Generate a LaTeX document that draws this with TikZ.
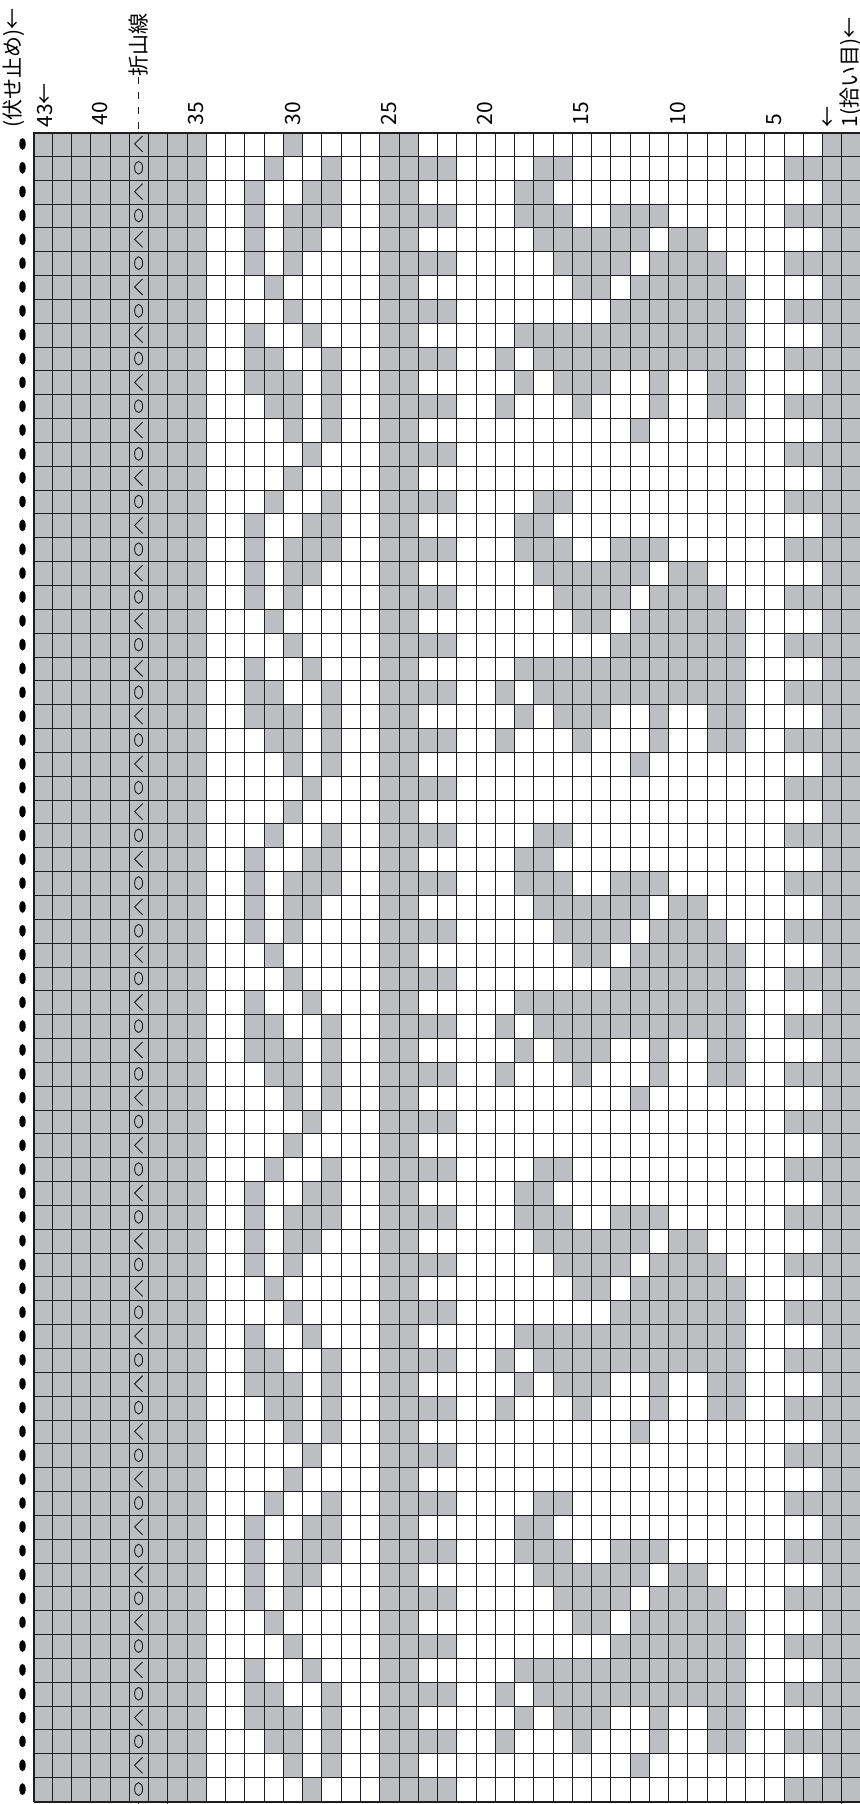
\documentclass[tikz,border=0pt]{standalone}
\usepackage{fontspec}
\setmainfont{Noto Sans CJK JP}
\usetikzlibrary{positioning}
\definecolor{chartgray}{RGB}{189,190,194}
\definecolor{chartline}{RGB}{30,30,30}

\begin{document}
\begin{tikzpicture}[x=0.5pt, y=-0.5pt,
  cell/.style={fill=chartgray},
  gridline/.style={draw=chartline, line width=0.75pt},
  frame/.style={draw=chartline, line width=1pt},
  lbl/.style={font=\fontsize{10.5}{12}\selectfont, rotate=90, anchor=west, inner sep=0pt},
  sym/.style={draw=chartline, line width=0.45pt},
  bo/.style={fill=black},
]
  \def\cw{19.253}\def\ch{23.843}\def\gx{32.7}\def\gy{132}
  \def\sx{138.6}
  \def\gtop{132.5}\def\gbot{1801.5}
  \useasboundingbox (0,0) rectangle (859,1804);

  % columns that stay gray
  \fill[cell] (\gx,\gtop) rectangle ({\gx+9*\cw},\gbot);
  \fill[cell] ({\gx+18*\cw},\gtop) rectangle ({\gx+20*\cw},\gbot);
  \fill[cell] ({\gx+41*\cw},\gtop) rectangle ({\gx+43*\cw},\gbot);

  % 14-row repeat, 5 times
  \foreach \k in {0,...,4}{
    \foreach \p/\cols in {1/{30},
                          2/{31,28,23,22,17,16,4,3},
                          3/{32,29,28,18,17},
                          4/{32,30,29,28,23,22,18,17,16,13,12,11,4,3},
                          5/{32,30,29,17,16,15,14,13,12,10,9},
                          6/{32,30,23,22,16,15,14,13,11,10,9,8,4,3},
                          7/{31,15,14,12,11,10,9,8,7},
                          8/{30,23,22,13,12,11,10,9,8,7,4,3},
                          9/{32,29,18,17,16,15,14,13,12,11,10,9,8,7},
                          10/{32,31,28,23,22,19,17,16,15,14,13,12,11,10,9,8,7,4,3},
                          11/{32,31,30,28,18,16,15,14,11,8,7},
                          12/{31,30,28,23,22,19,15,11,8,7,4,3},
                          13/{30,28,12},
                          14/{29,23,22,4,3}}{
      \pgfmathsetmacro\ya{round(\gy+(14*\k+\p-1)*\ch)+0.5}
      \pgfmathsetmacro\yb{round(\gy+(14*\k+\p)*\ch)+0.5}
      \foreach \c in \cols{
        \pgfmathsetmacro\xa{round(\gx+(43-\c)*\cw)+0.5}
        \pgfmathsetmacro\xb{round(\gx+(44-\c)*\cw)+0.5}
        \fill[cell] (\xa,\ya) rectangle (\xb,\yb);
      }
    }
  }

  % grid
  \foreach \i in {0,...,43}{
    \pgfmathsetmacro\xx{round(\gx+\i*\cw)+0.5}
    \draw[gridline] (\xx,\gtop) -- (\xx,\gbot);
  }
  \foreach \j in {0,...,70}{
    \pgfmathsetmacro\yy{round(\gy+\j*\ch)+0.5}
    \draw[gridline] (\gx,\yy) -- ({\gx+43*\cw},\yy);
  }
  \draw[frame] (33.5,\gtop) -- (33.5,\gbot);
  \draw[frame] (33.5,\gtop) -- (860,\gtop);
  \draw[frame] (33.5,\gbot) -- (860,\gbot);

  % bind-off dots and fold-line symbols
  \foreach \r in {1,...,70}{
    \pgfmathsetmacro\yc{\gy+(\r-0.5)*\ch}
    \fill[bo] (22.5,\yc) ellipse [x radius=1.6pt, y radius=3pt];
    \ifodd\r
      \draw[sym] ({\sx+4},{\yc-8}) -- ({\sx-4},\yc) -- ({\sx+4},{\yc+8});
    \else
      \draw[sym] (\sx,\yc) ellipse [x radius=2pt, y radius=3.2pt];
    \fi
  }

  % header
  \node[lbl] (bindoff) at (14,128) {(伏せ止め)←};
  \node[lbl] (n43) at (45,128) {43←};
  \foreach \n in {40,35,...,5}
    \node[lbl] (n\n) at ({\gx+(43-\n+0.5)*\cw},126) {\n};
  \node[lbl] (n1) at ({\gx+42.5*\cw},128) {1(拾い目)←};
  \node[lbl] (dir1) at (829,128) {←};
  \node[lbl] (fold) at (\sx,77) {折山線};
  \coordinate (foldtop) at (\sx,\gtop);
  \draw[chartline, line width=0.5pt, dash pattern=on 3.5pt off 4pt] (fold.west) -- (foldtop);

  % ticks below the chart
  \foreach \tx in {\sx,{\gx+7*\cw},{\gx+42*\cw}}
    \draw[chartline, line width=0.5pt] (\tx,\gbot) -- ++(0,4);
\end{tikzpicture}
\end{document}
